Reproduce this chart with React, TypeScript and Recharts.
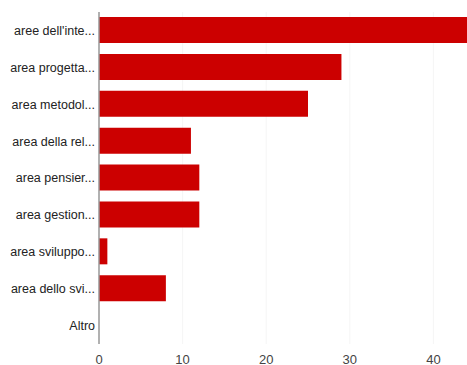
import React from 'react'
import { BarChart, Bar, XAxis, YAxis, CartesianGrid } from 'recharts'

const categories = [
  "aree dell'inte...",
  'area progetta...',
  'area metodol...',
  'area della rel...',
  'area pensier...',
  'area gestion...',
  'area sviluppo...',
  'area dello svi...',
  'Altro',
]
const values = [45, 29, 25, 11, 12, 12, 1, 8, 0]
const xTicks = [0, 10, 20, 30, 40, 50]

const data = categories.map((name, i) => ({ name, value: values[i] }))

const FONT = '"Liberation Sans", Arial, sans-serif'

export default function App() {
  return (
    <div
      style={{
        position: 'absolute',
        left: 0,
        top: 0,
        width: 467,
        height: 365,
        overflow: 'hidden',
        background: '#fff',
      }}
    >
      <BarChart
        width={517}
        height={374}
        data={data}
        layout="vertical"
        margin={{ top: 12, right: 0, bottom: 0, left: 0 }}
        barSize={26}
      >
        <CartesianGrid horizontal={false} stroke="#f5f5f5" />
        <XAxis
          type="number"
          domain={[0, 50]}
          ticks={xTicks}
          axisLine={false}
          tickLine={false}
          tickSize={0}
          tickMargin={11}
          height={30}
          interval={0}
          tick={{ fill: '#444', fontSize: 13, fontFamily: FONT }}
        />
        <YAxis
          type="category"
          dataKey="name"
          width={99}
          axisLine={{ stroke: '#999', strokeWidth: 1.5 }}
          tickLine={false}
          tickSize={0}
          tickMargin={4}
          interval={0}
          tick={{ fill: '#222', fontSize: 12.5, fontFamily: FONT }}
        />
        <Bar dataKey="value" fill="#cc0000" isAnimationActive={false} />
      </BarChart>
    </div>
  )
}
